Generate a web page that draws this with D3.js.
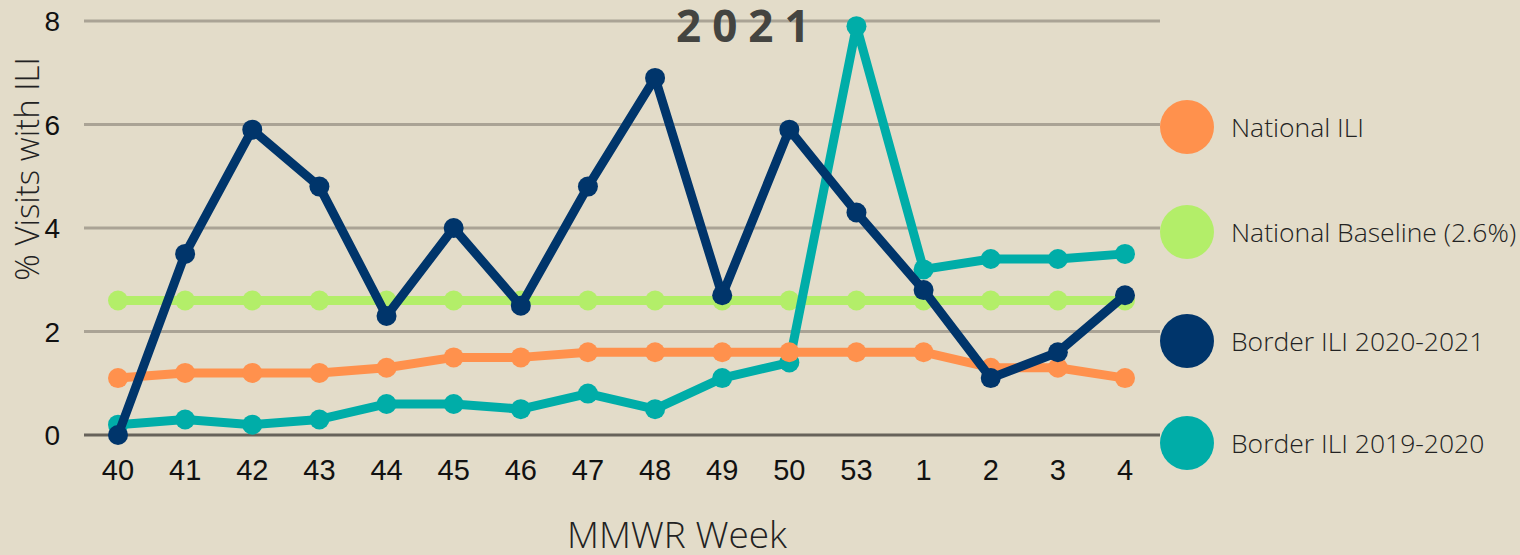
<!DOCTYPE html>
<html>
<head>
<meta charset="utf-8">
<script src="https://cdn.jsdelivr.net/npm/d3@7"></script>
<style>
  html, body { margin: 0; padding: 0; background: #e3dcc9; }
  svg { display: block; }
</style>
</head>
<body>
<svg id="chart" width="1520" height="555"></svg>
<script>
const weeks = ["40","41","42","43","44","45","46","47","48","49","50","53","1","2","3","4"];
const nationalILI = [1.1,1.2,1.2,1.2,1.3,1.5,1.5,1.6,1.6,1.6,1.6,1.6,1.6,1.3,1.3,1.1];
const nationalBaseline = [2.6,2.6,2.6,2.6,2.6,2.6,2.6,2.6,2.6,2.6,2.6,2.6,2.6,2.6,2.6,2.6];
const border2021 = [0,3.5,5.9,4.8,2.3,4.0,2.5,4.8,6.9,2.7,5.9,4.3,2.8,1.1,1.6,2.7];
const border2020 = [0.2,0.3,0.2,0.3,0.6,0.6,0.5,0.8,0.5,1.1,1.4,7.9,3.2,3.4,3.4,3.5];
const yTicks = [0,2,4,6,8];
const seriesNames = ["National ILI","National Baseline (2.6%)","Border ILI 2020-2021","Border ILI 2019-2020"];

const colors = {
  "National ILI": "#ff914d",
  "National Baseline (2.6%)": "#b3ee69",
  "Border ILI 2020-2021": "#00356b",
  "Border ILI 2019-2020": "#00ada8"
};
const seriesData = {
  "National ILI": nationalILI,
  "National Baseline (2.6%)": nationalBaseline,
  "Border ILI 2020-2021": border2021,
  "Border ILI 2019-2020": border2020
};
const drawOrder = ["National Baseline (2.6%)","Border ILI 2019-2020","National ILI","Border ILI 2020-2021"];

const svg = d3.select("#chart");
svg.append("rect").attr("width",1520).attr("height",555).attr("fill","#e3dcc9");

const x = d3.scalePoint().domain(weeks).range([118,1125]);
const y = d3.scaleLinear().domain([0,8]).range([435,21]);

// gridlines
svg.append("g").selectAll("line").data(yTicks).join("line")
  .attr("x1",84).attr("x2",1160)
  .attr("y1",d=>y(d)).attr("y2",d=>y(d))
  .attr("stroke",d=>d===0?"#67625a":"#aaa395")
  .attr("stroke-width",3);

// y tick labels
svg.append("g").selectAll("text").data(yTicks).join("text")
  .attr("x",60).attr("y",d=>y(d)).attr("dy","0.36em")
  .attr("text-anchor","end")
  .attr("font-family","Liberation Sans, Arial, sans-serif")
  .attr("font-size",28).attr("fill","#111")
  .text(d=>d);

// x tick labels
svg.append("g").selectAll("text").data(weeks).join("text")
  .attr("x",d=>x(d)).attr("y",480)
  .attr("text-anchor","middle")
  .attr("font-family","Liberation Sans, Arial, sans-serif")
  .attr("font-size",29).attr("fill","#111")
  .text(d=>d);

// lines
const line = d3.line().x((d,i)=>x(weeks[i])).y(d=>y(d));
drawOrder.forEach(name=>{
  const g = svg.append("g");
  const vals = seriesData[name];
  g.append("path").datum(vals)
    .attr("d",line).attr("fill","none")
    .attr("stroke",colors[name]).attr("stroke-width",9)
    .attr("stroke-linejoin","round");
  g.selectAll("circle").data(vals).join("circle")
    .attr("cx",(d,i)=>x(weeks[i])).attr("cy",d=>y(d))
    .attr("r",10).attr("fill",colors[name]);
});

// title
svg.append("text")
  .attr("x",676).attr("y",42)
  .attr("font-family","Open Sans, sans-serif")
  .attr("font-weight",700).attr("font-size",44)
  .attr("letter-spacing","11px")
  .attr("fill","#444440")
  .text("2021");

// axis titles
svg.append("text")
  .attr("transform","translate(39,169) rotate(-90)")
  .attr("text-anchor","middle")
  .attr("font-family","Open Sans, sans-serif")
  .attr("font-weight",300).attr("font-size",33).attr("fill","#222")
  .text("% Visits with ILI");

svg.append("text")
  .attr("x",677).attr("y",548)
  .attr("text-anchor","middle")
  .attr("font-family","Open Sans, sans-serif")
  .attr("font-weight",300).attr("font-size",37).attr("fill","#222")
  .text("MMWR Week");

// legend
const legendY = [127,232,341,443];
const lg = svg.append("g").selectAll("g").data(seriesNames).join("g")
  .attr("transform",(d,i)=>`translate(0,${legendY[i]})`);
lg.append("circle").attr("cx",1187).attr("cy",0).attr("r",27).attr("fill",d=>colors[d]);
lg.append("text").attr("x",1231).attr("y",0).attr("dy","0.36em")
  .attr("font-family","Open Sans, sans-serif")
  .attr("font-weight",300).attr("font-size",26.5).attr("fill","#222")
  .text(d=>d);
</script>
</body>
</html>
